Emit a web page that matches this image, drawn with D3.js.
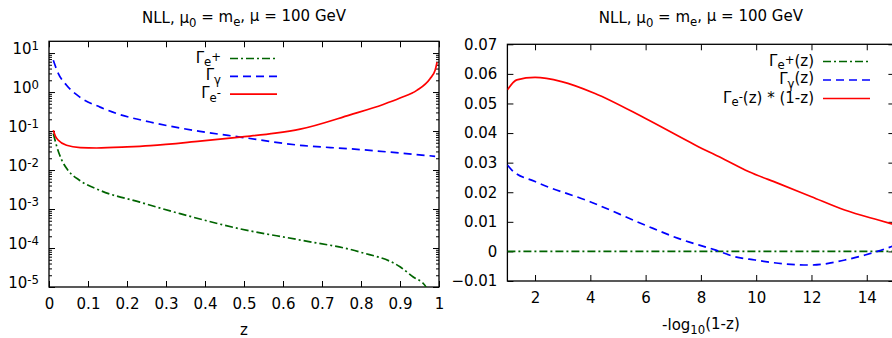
<!DOCTYPE html>
<html>
<head>
<meta charset="utf-8">
<script src="https://cdn.jsdelivr.net/npm/d3@7"></script>
<style>
  body { margin: 0; background: #fff; }
  svg { display: block; font-family: "DejaVu Sans", sans-serif; }
</style>
</head>
<body>
<script>
// left panel: z in [0,1], log y
var zPos = [0.011, 0.02, 0.033, 0.05, 0.079, 0.131, 0.233, 0.336, 0.49, 0.644, 0.797, 0.9, 0.934, 0.964, 0.98];
var gPos = [0.086, 0.04, 0.0177, 0.0095, 0.0054, 0.003, 0.0015, 7.6e-4, 3.1e-4, 1.6e-4, 7.9e-5, 3.3e-5, 1.8e-5, 1.1e-5, 4e-6];
var zGam = [0.011, 0.024, 0.045, 0.079, 0.131, 0.174, 0.259, 0.387, 0.49, 0.644, 0.772, 0.99];
var gGam = [6.5, 2.97, 1.49, 0.74, 0.41, 0.28, 0.17, 0.098, 0.070, 0.043, 0.035, 0.0225];
var zEle = [0.011, 0.016, 0.024, 0.045, 0.08, 0.122, 0.2, 0.26, 0.387, 0.49, 0.58, 0.644, 0.772, 0.857, 0.9, 0.943, 0.977, 0.99, 0.995];
var gEle = [0.104, 0.075, 0.058, 0.043, 0.0375, 0.0367, 0.039, 0.042, 0.055, 0.070, 0.088, 0.112, 0.26, 0.48, 0.70, 1.1, 2.2, 3.6, 5.8];

// right panel: -log10(1-z)
var tPos = [1, 15];
var rPos = [0, 0];
var tGam = [1, 1.16, 2, 3.99, 5.98, 7.18, 8.51, 9.23, 9.96, 10.8, 12.0, 13.21, 13.94, 14.42, 14.95];
var rGam = [0.0292, 0.0275, 0.0236, 0.0168, 0.0089, 0.0044, 0.0005, -0.0018, -0.0029, -0.004, -0.0046, -0.0029, -0.0012, 0.0001, 0.0018];
var tEle = [1, 1.34, 2, 2.96, 4.17, 5.98, 7.79, 8.87, 9.72, 10.8, 12.0, 13.2, 14.42, 14.95];
var rEle = [0.0546, 0.058, 0.0588, 0.0574, 0.0534, 0.045, 0.036, 0.031, 0.027, 0.023, 0.0185, 0.014, 0.0106, 0.0092];

var xTicksL = [0, 0.1, 0.2, 0.3, 0.4, 0.5, 0.6, 0.7, 0.8, 0.9, 1];
var yExpL = [1, 0, -1, -2, -3, -4, -5];
var xTicksR = [2, 4, 6, 8, 10, 12, 14];
var yTicksR = [-0.01, 0, 0.01, 0.02, 0.03, 0.04, 0.05, 0.06, 0.07];

var fs = 15;
var colPos = "#006400", colGam = "#0000ff", colEle = "#ff0000";
var dashPos = "8,3,2,3", dashGam = "8,5";

var svg = d3.select("body").append("svg")
  .attr("width", 892)
  .attr("height", 338);

function zip(a, b) { return a.map(function(v, i) { return [v, b[i]]; }); }

// sub/superscript helper: parts = [[text, shift, small]]
function rich(sel, parts) {
  var cur = 0;
  parts.forEach(function(p) {
    var shift = p[1] || 0;
    var t = sel.append("tspan").text(p[0]).attr("dy", (shift - cur) + "em");
    if (p[2]) t.attr("font-size", "0.78em");
    cur = shift;
  });
}

function panel(o) {
  var g = svg.append("g");
  var clipId = "clip" + o.id;
  svg.append("clipPath").attr("id", clipId)
    .append("rect")
    .attr("x", o.x.range()[0]).attr("y", o.y.range()[1])
    .attr("width", o.x.range()[1] - o.x.range()[0])
    .attr("height", o.y.range()[0] - o.y.range()[1]);

  var x0 = o.x.range()[0], x1 = o.x.range()[1];
  var y0 = o.y.range()[0], y1 = o.y.range()[1];

  // bottom / top
  g.append("g").attr("transform", "translate(0," + y0 + ")")
    .call(d3.axisBottom(o.x).tickValues(o.xTicks).tickSize(-6).tickPadding(11).tickFormat(o.xFmt));
  g.append("g").attr("transform", "translate(0," + y1 + ")")
    .call(d3.axisTop(o.x).tickValues(o.xTicks).tickSize(-6).tickFormat(""));
  // left / right
  var l = g.append("g").attr("transform", "translate(" + x0 + ",0)")
    .call(d3.axisLeft(o.y).tickValues(o.yTicks).tickSize(-6).tickPadding(10).tickFormat(o.yFmt));
  g.append("g").attr("transform", "translate(" + x1 + ",0)")
    .call(d3.axisRight(o.y).tickValues(o.yTicks).tickSize(-6).tickFormat(""));
  if (o.yMinor) {
    g.append("g").attr("transform", "translate(" + x0 + ",0)")
      .call(d3.axisLeft(o.y).tickValues(o.yMinor).tickSize(-3).tickFormat(""));
    g.append("g").attr("transform", "translate(" + x1 + ",0)")
      .call(d3.axisRight(o.y).tickValues(o.yMinor).tickSize(-3).tickFormat(""));
  }
  g.selectAll(".domain").remove();
  g.selectAll("g").attr("font-size", fs).attr("font-family", "DejaVu Sans, sans-serif");
  g.selectAll(".tick line").attr("stroke", "#000").attr("stroke-width", 1);
  g.selectAll(".tick text").attr("fill", "#000");
  g.selectAll(".tick text").filter(function() { return this.textContent === ""; }).remove();
  if (o.yRich) {
    l.selectAll(".tick").append("text")
      .attr("fill", "#000")
      .attr("x", -10).attr("dy", "0.4em")
      .attr("text-anchor", "end")
      .each(function(d) { rich(d3.select(this), o.yRich(d)); });
  }

  g.append("rect")
    .attr("x", x0).attr("y", y1)
    .attr("width", x1 - x0).attr("height", y0 - y1)
    .attr("fill", "none").attr("stroke", "#000").attr("stroke-width", 1.3);

  // curves
  var line = d3.line()
    .x(function(d) { return o.x(d[0]); })
    .y(function(d) { return o.y(d[1]); })
    .curve(d3.curveMonotoneX);
  var cg = g.append("g").attr("clip-path", "url(#" + clipId + ")");
  o.series.forEach(function(s) {
    cg.append("path")
      .attr("d", line(s.data))
      .attr("fill", "none")
      .attr("stroke", s.color)
      .attr("stroke-width", 1.7)
      .attr("stroke-dasharray", s.dash);
  });

  // legend
  var lg = g.append("g").attr("font-size", fs);
  o.series.forEach(function(s, i) {
    var yy = o.leg.y + i * o.leg.dy;
    var t = lg.append("text")
      .attr("x", o.leg.x).attr("y", yy + 4)
      .attr("text-anchor", "end");
    rich(t, s.label);
    lg.append("line")
      .attr("x1", o.leg.x + 9).attr("x2", o.leg.x + 56)
      .attr("y1", yy).attr("y2", yy)
      .attr("stroke", s.color).attr("stroke-width", 1.7)
      .attr("stroke-dasharray", s.dash);
  });

  // title
  var tt = svg.append("text")
    .attr("x", (x0 + x1) / 2).attr("y", 23)
    .attr("text-anchor", "middle").attr("font-size", fs);
  rich(tt, [["NLL, \u03bc"], ["0", 0.35, true], [" = m"], ["e", 0.35, true], [", \u03bc = 100 GeV"]]);

  var xl = svg.append("text")
    .attr("x", (x0 + x1) / 2).attr("y", o.xLabelY)
    .attr("text-anchor", "middle").attr("font-size", fs);
  rich(xl, o.xLabel);
}

// left
var xL = d3.scaleLinear().domain([0, 1]).range([49, 439]);
var yL = d3.scaleLog().domain([1e-5, 20]).range([287, 41.3]);
var minorL = [];
for (var e = -5; e <= 1; e++) {
  for (var m = 2; m <= 9; m++) {
    var v = m * Math.pow(10, e);
    if (v < 20) minorL.push(v);
  }
}
panel({
  id: "L", x: xL, y: yL,
  xTicks: xTicksL, xFmt: function(d) { return String(d); },
  yTicks: yExpL.map(function(p) { return Math.pow(10, p); }),
  yMinor: minorL,
  yFmt: function(d) { return ""; },
  yRich: function(d) { return [["10"], [String(Math.round(Math.log10(d))), -0.3, true]]; },
  series: [
    { data: zip(zPos, gPos), color: colPos, dash: dashPos, label: [["\u0393"], ["e", 0.3, true], ["+", -0.1, true]] },
    { data: zip(zGam, gGam), color: colGam, dash: dashGam, label: [["\u0393"], ["\u03b3", 0.3, true]] },
    { data: zip(zEle, gEle), color: colEle, dash: null, label: [["\u0393"], ["e", 0.3, true], ["-", -0.1, true]] }
  ],
  leg: { x: 221, y: 58.5, dy: 17.8 },
  xLabel: [["z"]], xLabelY: 335
});

// right
var xR = d3.scaleLinear().domain([1, 15]).range([507.4, 894.4]);
var yR = d3.scaleLinear().domain([-0.01, 0.07]).range([281, 44.3]);
panel({
  id: "R", x: xR, y: yR,
  xTicks: xTicksR, xFmt: function(d) { return String(d); },
  yTicks: yTicksR,
  yFmt: function(d) { return Math.abs(d) < 1e-9 ? "0" : d3.format(".2f")(d); },
  series: [
    { data: zip(tPos, rPos), color: colPos, dash: dashPos, label: [["\u0393"], ["e", 0.3, true], ["+", -0.1, true], ["(z)", 0]] },
    { data: zip(tGam, rGam), color: colGam, dash: dashGam, label: [["\u0393"], ["\u03b3", 0.3, true], ["(z)", 0]] },
    { data: zip(tEle, rEle), color: colEle, dash: null, label: [["\u0393"], ["e", 0.3, true], ["-", -0.1, true], ["(z) * (1-z)", 0]] }
  ],
  leg: { x: 814, y: 61.5, dy: 18.5 },
  xLabel: [["-log"], ["10", 0.35, true], ["(1-z)", 0]], xLabelY: 330
});
</script>
</body>
</html>
